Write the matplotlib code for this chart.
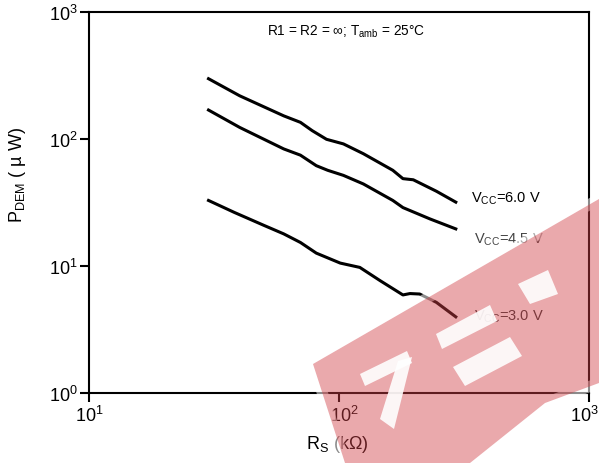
import matplotlib
matplotlib.use('Agg')
from matplotlib import rcParams
import matplotlib.pyplot as plt
from matplotlib.patches import Polygon
from matplotlib.transforms import ScaledTranslation

rcParams['font.family'] = 'Liberation Sans'
rcParams['mathtext.fontset'] = 'custom'
rcParams['mathtext.rm'] = 'Liberation Sans'
rcParams['mathtext.it'] = 'Liberation Sans:italic'
rcParams['mathtext.bf'] = 'Liberation Sans:bold'

# demodulator power vs source resistance, one curve per supply voltage
rs_60 = [30, 40, 60, 70, 78, 89, 104, 125, 164, 180, 198, 245, 293]
p_60 = [300, 220, 153, 136, 117, 100, 92, 77, 57, 49, 48, 39, 32]

rs_45 = [30, 40, 60, 70, 81, 90, 104, 125, 164, 180, 231, 293]
p_45 = [170, 124, 84, 75, 62, 57, 52, 44.5, 33, 29, 23.6, 19.7]

rs_30 = [30, 38, 50, 60, 70, 81, 101, 121, 146, 180, 192, 210, 245, 293]
p_30 = [33, 26.6, 21, 18, 15.4, 12.7, 10.6, 9.8, 7.7, 5.95, 6.1, 6.05, 5.2, 4.0]

curve_labels = ['6.0 V', '4.5 V', '3.0 V']
decades = [1, 10, 100, 1000]

W, H = 599, 464
fig = plt.figure(figsize=(W / 100, H / 100), dpi=100)
ax = fig.add_axes([89.3 / W, 1 - 394.3 / H, (589 - 89.3) / W, (394.3 - 13.3) / H])


def px(x, y):
    # pixel position (origin top-left) -> figure fraction
    return (x / W, 1 - y / H)


for xs, ys in [(rs_60, p_60), (rs_45, p_45), (rs_30, p_30)]:
    ax.plot(xs, ys, color='black', lw=2.2, solid_joinstyle='round')

ax.set_xscale('log')
ax.set_yscale('log')
ax.set_xlim(10, 1000)
ax.set_ylim(1, 1000)
ax.set_xticks(decades[1:])
ax.set_xticklabels([r'$10^{%d}$' % i for i in (1, 2, 3)])
ax.set_yticks(decades)
ax.set_yticklabels([r'$10^{%d}$' % i for i in (0, 1, 2, 3)])
ax.minorticks_off()
ax.tick_params(direction='out', length=6.5, width=1.5, labelsize=13, pad=2,
               top=False, right=False)
for s in ax.spines.values():
    s.set_linewidth(1.5)

# nudge x labels so the last one stays inside the canvas
xl = ax.get_xticklabels()
for lab, dx in zip(xl, [0, 5, -5]):
    lab.set_transform(lab.get_transform() + ScaledTranslation(dx / 100, 0, fig.dpi_scale_trans))

fig.text(*px(267, 32), r'R1 = R2 = $\infty$; T$_{\mathregular{amb}}$ = 25$\degree$C',
         fontsize=9.8, ha='left', va='center')

label_pos = [(471, 199), (474, 240), (474, 317)]
label_cols = ['black', '#444444', '#333333']
for lab, (lx, ly), c in zip(curve_labels, label_pos, label_cols):
    fig.text(*px(lx, ly), r'V$_{\mathregular{CC}}$=' + lab, fontsize=10.5,
             ha='left', va='center', color=c)

fig.text(*px(18, 175), 'P$_{\\mathregular{DEM}}$ ( \u00b5 W)', fontsize=13,
         rotation=90, ha='center', va='center')
fig.text(*px(337, 445), r'R$_{\mathregular{S}}$ (k$\Omega$)', fontsize=13,
         ha='center', va='center')

# translucent stamp across the lower right
band = [(313, 365), (599, 200), (599, 384), (545, 404), (470, 464), (345, 464)]
holes = [
    [(436, 335), (490, 306), (497, 322), (442, 350)],
    [(453, 368), (510, 338), (522, 357), (465, 387)],
    [(518, 285), (548, 271), (558, 295), (530, 305)],
    [(360, 375), (407, 352), (412, 364), (365, 387)],
    [(398, 362), (412, 358), (394, 430), (380, 420)],
]
fig.add_artist(Polygon([px(*p) for p in band], closed=True, transform=fig.transFigure,
                       facecolor='none', edgecolor='white', lw=8, alpha=0.55,
                       joinstyle='round', zorder=20))
fig.add_artist(Polygon([px(*p) for p in band], closed=True, transform=fig.transFigure,
                       facecolor=(0.82, 0.25, 0.28), edgecolor='none', alpha=0.45,
                       zorder=21))
for h in holes:
    fig.add_artist(Polygon([px(*p) for p in h], closed=True, transform=fig.transFigure,
                           facecolor='white', edgecolor='none', alpha=0.9, zorder=22))

fig.savefig('out.png', dpi=100)
